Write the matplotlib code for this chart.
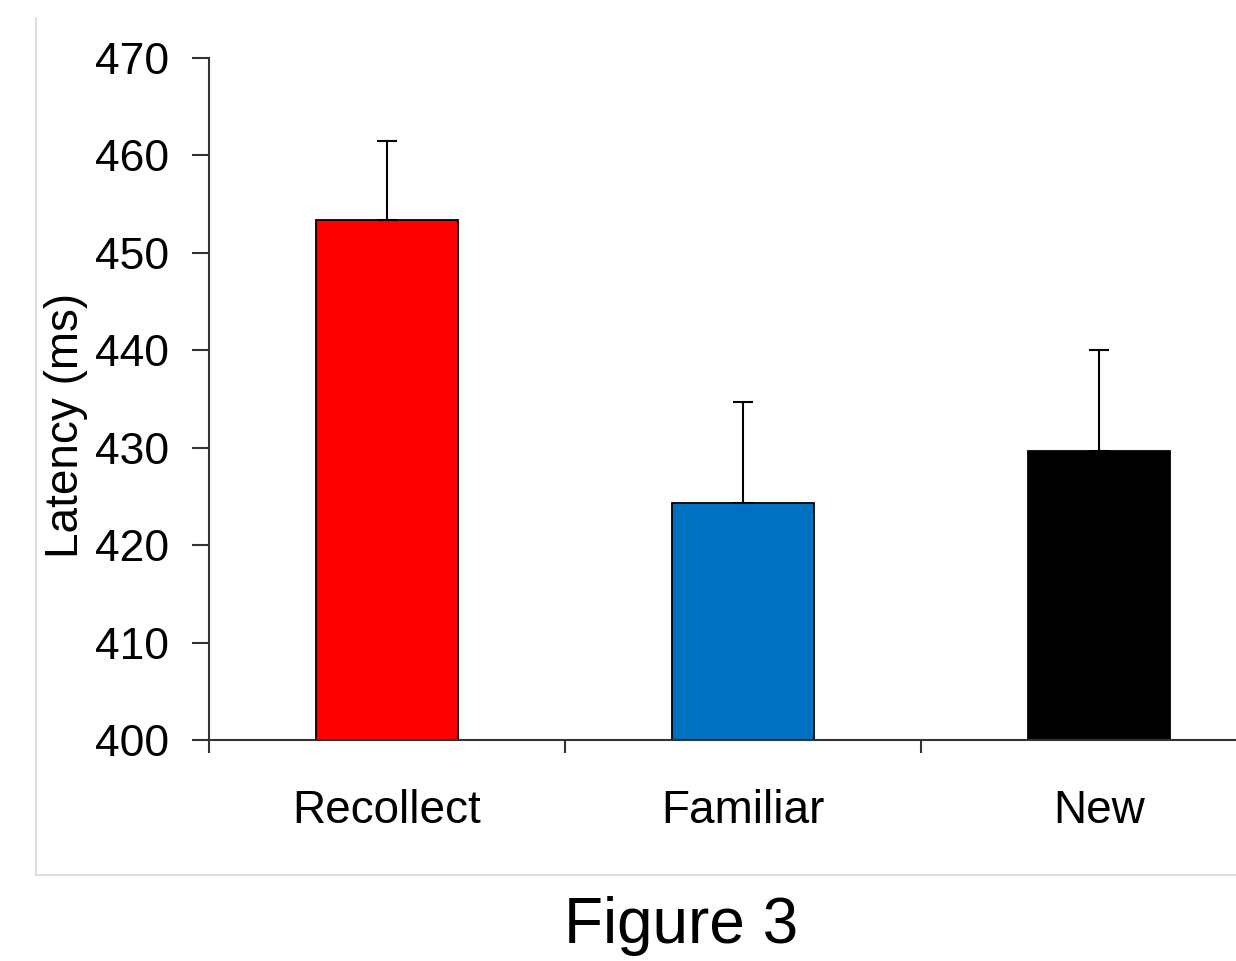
import matplotlib
matplotlib.use("Agg")
import matplotlib.pyplot as plt
from matplotlib.lines import Line2D

plt.rcParams['font.family'] = ['Liberation Sans', 'DejaVu Sans']

categories = ["Recollect", "Familiar", "New"]
latency = [453.4, 424.3, 429.7]
sem = [8.1, 10.4, 10.3]
colors = ["#FF0000", "#0070C0", "#000000"]
y_ticks = [400, 410, 420, 430, 440, 450, 460, 470]

W, H = 1236, 961
fig = plt.figure(figsize=(W / 100, H / 100), dpi=100)

# light frame around the chart area
frame_color = "#d9d9d9"
fig.add_artist(Line2D([36 / W, 36 / W], [1 - 18 / H, 1 - 875 / H],
                      transform=fig.transFigure, color=frame_color, lw=1.2))
fig.add_artist(Line2D([36 / W, 1.0], [1 - 875 / H, 1 - 875 / H],
                      transform=fig.transFigure, color=frame_color, lw=1.2))

ax = fig.add_axes([209 / W, 1 - 740 / H, (1277 - 209) / W, (740 - 58) / H])
x = list(range(len(categories)))
ax.bar(x, [v - 400 for v in latency], bottom=400, width=0.4, color=colors,
       edgecolor="black", linewidth=1.3, zorder=2)
ax.errorbar(x, latency, yerr=[[0] * len(sem), sem], fmt="none", ecolor="black",
            elinewidth=1.5, capsize=7, capthick=1.5, zorder=3)

ax.set_xlim(-0.5, 2.5)
ax.set_ylim(400, 470)
ax.set_yticks(y_ticks)
ax.tick_params(axis="y", direction="out", length=12, width=1.5, color="#333333",
               labelsize=32, pad=17)

# boundary ticks between groups, labels centred under each bar
ax.set_xticks([-0.5, 0.5, 1.5, 2.5])
ax.set_xticklabels([])
ax.tick_params(axis="x", which="major", direction="out", length=9, width=1.5,
               color="#333333")
ax.set_xticks(x, minor=True)
ax.set_xticklabels(categories, minor=True)
ax.tick_params(axis="x", which="minor", length=0, labelsize=33, pad=35)

for side in ("top", "right"):
    ax.spines[side].set_visible(False)
for side in ("left", "bottom"):
    ax.spines[side].set_color("#333333")
    ax.spines[side].set_linewidth(1.5)

fig.text(66 / W, 1 - 425 / H, "Latency (ms)", fontsize=33, rotation=90,
         ha="center", va="center")

fig.text(681 / W, 1 - 926 / H, "Figure 3", fontsize=46, ha="center", va="center")

fig.savefig("out.png", dpi=100)
